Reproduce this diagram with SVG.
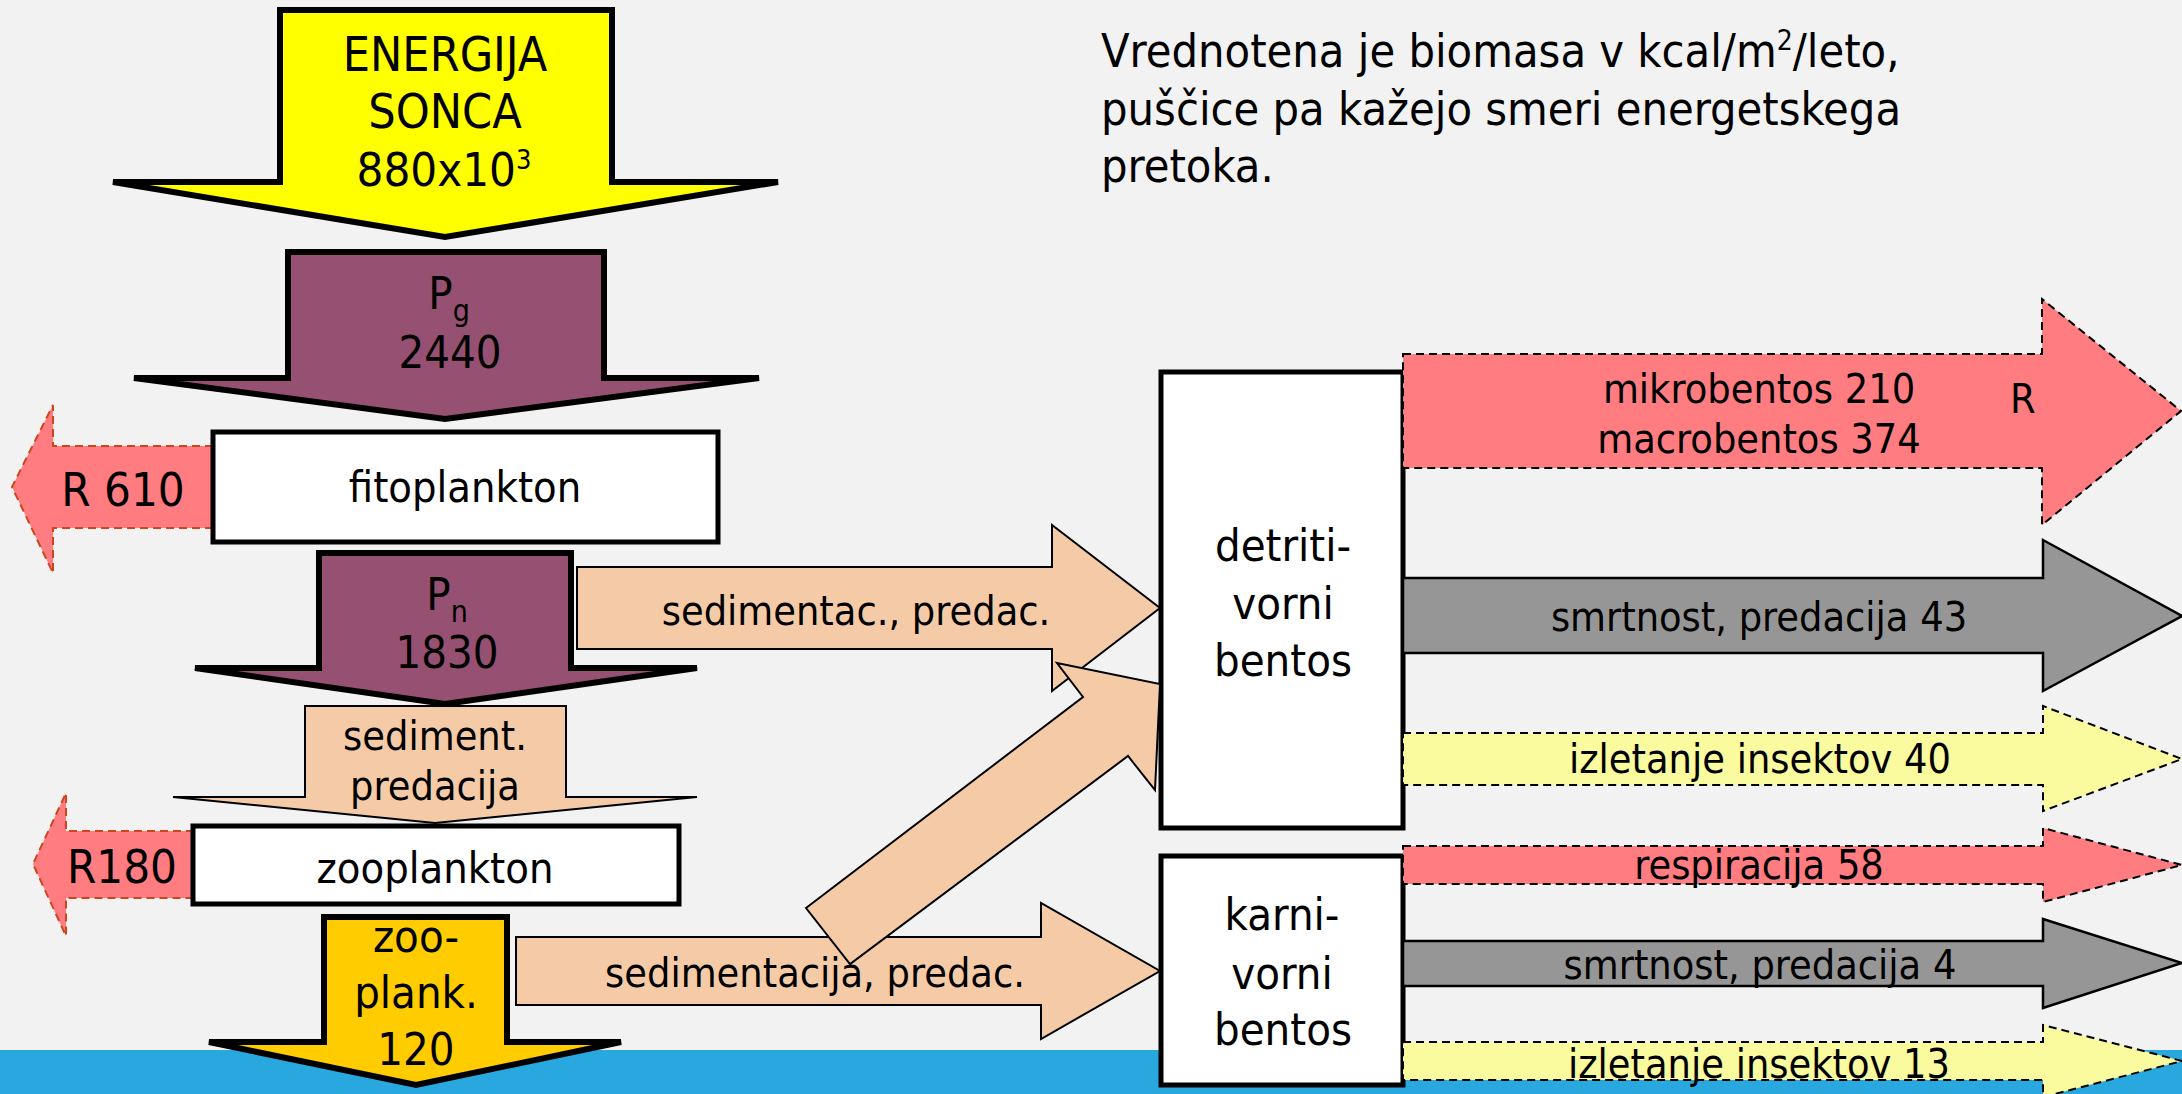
<svg xmlns="http://www.w3.org/2000/svg" width="2182" height="1094" viewBox="0 0 2182 1094">
<style>
text{font-family:"DejaVu Sans Condensed","DejaVu Sans",sans-serif;font-stretch:condensed;fill:#000}
.c{text-anchor:middle}
.f48{font-size:48px}
.f47{font-size:47px}
.f45{font-size:45px}
.f43{font-size:43px}
.f41{font-size:41px}
.f46{font-size:46.5px}
.thick{stroke:#000;stroke-width:6;stroke-linejoin:miter}
.box{fill:#fff;stroke:#000;stroke-width:5}
.peach{fill:#F5CBA7;stroke:#000;stroke-width:2}
.gray{fill:#969696;stroke:#000;stroke-width:2.5}
.dashk{stroke:#000;stroke-width:2;stroke-dasharray:8 5}
.dashr{fill:#FF7C80;stroke:#D0441C;stroke-width:2;stroke-dasharray:8 5}
</style>
<rect x="0" y="0" width="2182" height="1094" fill="#F2F2F2"/>
<rect x="0" y="1050" width="2182" height="44" fill="#29A8E0"/>

<g id="caption">
<text class="f46" x="1101" y="67">Vrednotena je biomasa v kcal/m<tspan font-size="28" dy="-17">2</tspan><tspan dy="17">/leto,</tspan></text>
<text class="f46" x="1101" y="125">puščice pa kažejo smeri energetskega</text>
<text class="f46" x="1101" y="182">pretoka.</text>
</g>

<g id="energija-sonca">
<path class="thick" fill="#FFFF00" d="M280,10 H612 V182 H778 L445,237 L113,182 H280 Z"/>
<text class="f48 c" x="445" y="71">ENERGIJA</text>
<text class="f48 c" x="445" y="128">SONCA</text>
<text class="f47 c" x="444" y="186">880x10<tspan font-size="27" dy="-17">3</tspan></text>
</g>

<g id="pg">
<path class="thick" fill="#955072" d="M288,252 H604 V378 H759 L445,419 L134,378 H288 Z"/>
<text class="f45 c" x="449" y="309">P<tspan font-size="30" dy="12">g</tspan></text>
<text class="f45 c" x="450" y="368">2440</text>
</g>

<g id="r610">
<path class="dashr" d="M213,446 H53 V405 L12,487 L53,573 V528 H213 Z"/>
<text class="f47 c" x="123" y="506">R 610</text>
</g>

<g id="fitoplankton">
<rect class="box" x="213" y="432" width="505" height="110"/>
<text class="f43 c" x="465" y="502">fitoplankton</text>
</g>

<g id="pn">
<path class="thick" fill="#955072" d="M319,553 H571 V668 H697 L445,704 L195,668 H319 Z"/>
<text class="f45 c" x="447" y="610">P<tspan font-size="30" dy="12">n</tspan></text>
<text class="f45 c" x="447" y="668">1830</text>
</g>

<g id="sediment-predacija">
<path class="peach" d="M305,706 H566 V797 H697 L435,823 L173,797 H305 Z"/>
<text class="f41 c" x="435" y="750">sediment.</text>
<text class="f41 c" x="435" y="800">predacija</text>
</g>

<g id="r180">
<path class="dashr" d="M194,831 H66 V793 L33,864 L66,936 V898 H194 Z"/>
<text class="f47 c" x="122" y="883">R180</text>
</g>

<g id="zooplankton">
<rect class="box" x="193" y="826" width="486" height="78"/>
<text class="f43 c" x="435" y="883">zooplankton</text>
</g>

<g id="zooplank">
<path class="thick" fill="#FFCC00" d="M324,917 H507 V1042 H621 L416,1085 L209,1042 H324 Z"/>
<text class="f45 c" x="416" y="952">zoo-</text>
<text class="f45 c" x="416" y="1008">plank.</text>
<text class="f45 c" x="416" y="1065">120</text>
</g>

<g id="detritivorni-bentos">
<rect class="box" x="1161" y="372" width="242" height="456"/>
<text class="f45 c" x="1283" y="561">detriti-</text>
<text class="f45 c" x="1283" y="619">vorni</text>
<text class="f45 c" x="1283" y="676">bentos</text>
</g>

<g id="karnivorni-bentos">
<rect class="box" x="1161" y="856" width="242" height="229"/>
<text class="f45 c" x="1282" y="930">karni-</text>
<text class="f45 c" x="1282" y="989">vorni</text>
<text class="f45 c" x="1283" y="1045">bentos</text>
</g>

<g id="connectors">
<g id="sedimentac-predac">
<path class="peach" d="M577,567 H1052 V525 L1160,608 L1052,691 V649 H577 Z"/>
<text class="f41 c" x="856" y="625">sedimentac., predac.</text>
</g>
<g id="sedimentacija-predac">
<path class="peach" d="M516,937 H1041 V903 L1160,971 L1041,1039 V1005 H516 Z"/>
</g>
<g id="diagonal">
<path class="peach" d="M806,908 L1083,697 L1057,663 L1160,684 L1155,790 L1128,756 L850,964 Z"/>
</g>
<text class="f41 c" x="815" y="987">sedimentacija, predac.</text>

<g id="r-bentos">
<path class="dashk" fill="#FF7C80" d="M1403,354 H2042 V299 L2181,411 L2042,525 V468 H1403 Z"/>
<text class="f41 c" x="1759" y="403">mikrobentos 210</text>
<text class="f41 c" x="1759" y="453">macrobentos 374</text>
<text class="f41" x="2010" y="413">R</text>
</g>
<g id="smrtnost-43">
<path class="gray" d="M1403,578 H2043 V540 L2182,616 L2043,691 V653 H1403 Z"/>
<text class="f41 c" x="1759" y="631">smrtnost, predacija 43</text>
</g>
<g id="izletanje-40">
<path class="dashk" fill="#FAFA9E" d="M1403,733 H2043 V706 L2182,759 L2043,811 V785 H1403 Z"/>
<text class="f41 c" x="1760" y="773">izletanje insektov 40</text>
</g>
<g id="respiracija-58">
<path class="dashk" fill="#FF7C80" d="M1403,846 H2043 V828 L2182,865 L2043,902 V884 H1403 Z"/>
<text class="f41 c" x="1759" y="879">respiracija 58</text>
</g>
<g id="smrtnost-4">
<path class="gray" d="M1403,941 H2043 V919 L2182,963 L2043,1008 V986 H1403 Z"/>
<text class="f41 c" x="1760" y="979">smrtnost, predacija 4</text>
</g>
<g id="izletanje-13">
<path class="dashk" fill="#FAFA9E" d="M1403,1042 H2043 V1025 L2182,1061 L2043,1097 V1080 H1403 Z"/>
<text class="f41 c" x="1759" y="1078">izletanje insektov 13</text>
</g>
</g>
</svg>
